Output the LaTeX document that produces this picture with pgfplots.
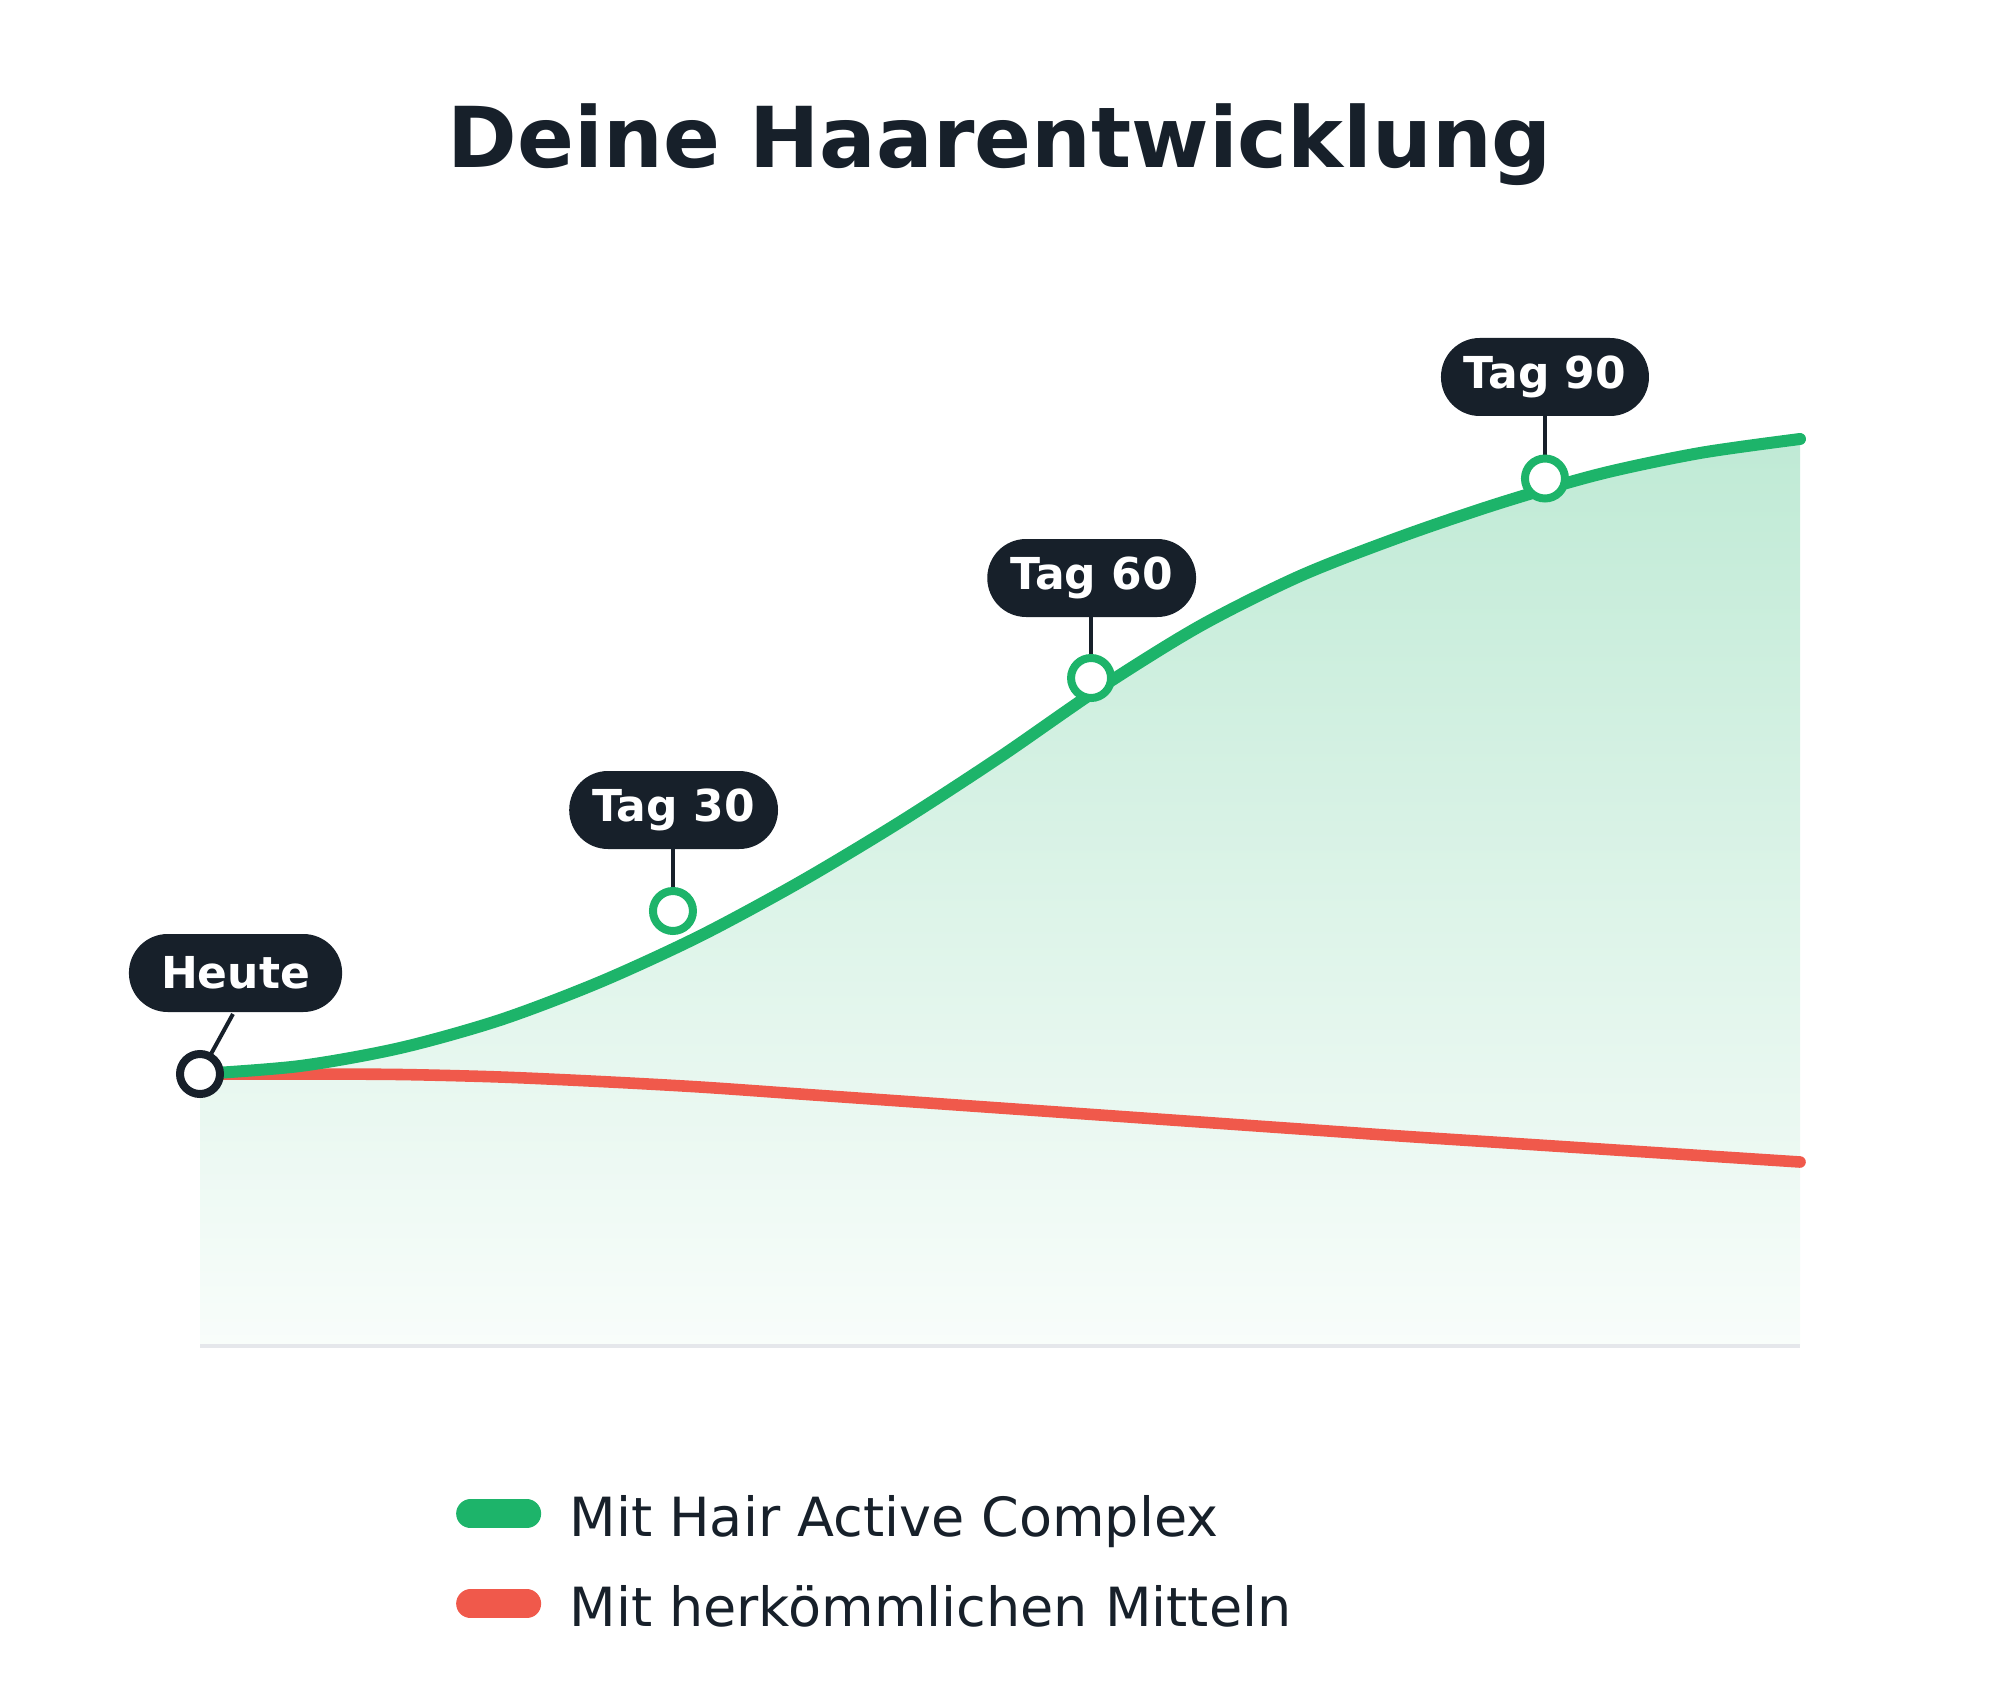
\documentclass[border=0pt]{standalone}
\usepackage{pgfplots}
\pgfplotsset{compat=1.18}
\usepackage{fontspec}
\setmainfont{DejaVu Sans}
\definecolor{greenc}{RGB}{29,180,106}
\definecolor{redc}{RGB}{240,89,75}
\definecolor{darkc}{RGB}{23,32,42}
\definecolor{gridc}{RGB}{229,231,235}
\pgfplotstableread{
x y
0 27.2
6.25 28.0
12.5 29.8
18.75 32.6
25 36.4
31.25 41.0
37.5 46.4
43.75 52.4
50 58.9
56.25 65.8
62.5 72.0
68.75 77.0
75 80.9
81.25 84.3
87.5 87.2
93.75 89.3
100 90.7
}\greendata
\pgfplotstableread{
x y
0 27.2
6.25 27.2
12.5 27.15
18.75 26.9
25 26.45
31.25 25.9
37.5 25.2
43.75 24.5
50 23.8
56.25 23.1
62.5 22.4
68.75 21.7
75 21.0
81.25 20.35
87.5 19.7
93.75 19.05
100 18.4
}\reddata
\begin{document}
\begin{tikzpicture}
\begin{axis}[
  width=500pt, height=426.5pt, scale only axis,
  xmin=-12.5, xmax=112.5, ymin=-36, ymax=134.6,
  hide axis, clip=false,
  reverse legend,
  legend cell align=left,
  legend style={at={(axis cs:16.01,-14.95)}, anchor=north west, draw=none, fill=none,
    inner sep=0pt, outer sep=0pt, row sep=10.75pt,
    font=\fontsize{13.5}{16}\selectfont, text=darkc,
    nodes={inner sep=0pt},
    /tikz/every odd column/.append style={column sep=7.06pt}},
]
\path (rel axis cs:0,0) rectangle (rel axis cs:1,1);
% gradient area
\addplot[draw=none, top color=greenc!28!white, bottom color=greenc!3!white, smooth, tension=0.5, forget plot] table[x=x,y=y] {\greendata} \closedcycle;
% baseline
\addplot[gridc, line width=0.8pt, forget plot] coordinates {(0,0) (100,0)};
% red line
\addplot[redc, line width=2.9pt, line cap=round, smooth, tension=0.5,
  legend image code/.code={\draw[redc, line width=7.25pt, line cap=round] (0pt,1.3pt) -- (14pt,1.3pt);}] table[x=x,y=y] {\reddata};
\addlegendentry{Mit herkömmlichen Mitteln}
% green line
\addplot[greenc, line width=3pt, line cap=round, smooth, tension=0.5,
  legend image code/.code={\draw[greenc, line width=7.25pt, line cap=round] (0pt,1.3pt) -- (14pt,1.3pt);}] table[x=x,y=y] {\greendata};
\addlegendentry{Mit Hair Active Complex}
% connectors
\draw[darkc, line width=1pt] (axis cs:0,27.2) -- (axis cs:2.06,33.2);
\draw[darkc, line width=1pt] (axis cs:29.56,53.6) -- (axis cs:29.56,43.5);
\draw[darkc, line width=1pt] (axis cs:55.69,76.8) -- (axis cs:55.69,66.8);
\draw[darkc, line width=1pt] (axis cs:84.06,96.9) -- (axis cs:84.06,86.75);
% markers
\addplot[only marks, mark=*, mark size=5pt, mark options={fill=white, draw=darkc, line width=2pt}, forget plot] coordinates {(0,27.2)};
\addplot[only marks, mark=*, mark size=5pt, mark options={fill=white, draw=greenc, line width=2pt}, forget plot] coordinates {(29.56,43.5) (55.69,66.8) (84.06,86.75)};
% labels
\tikzset{pill/.style={fill=darkc, text=white, rounded corners=9.7pt, minimum height=19.5pt, inner xsep=0pt, inner ysep=0pt, font=\bfseries\fontsize{11}{12}\selectfont}}
\node[pill, minimum width=53.3pt] at (axis cs:2.22,37.3) {Heute};
\node[pill, minimum width=52.2pt] at (axis cs:29.6,53.6) {Tag 30};
\node[pill, minimum width=52.2pt] at (axis cs:55.73,76.8) {Tag 60};
\node[pill, minimum width=52pt] at (axis cs:84.06,96.9) {Tag 90};
% title
\node[anchor=base, text=darkc, font=\bfseries\fontsize{21}{25}\selectfont] at (axis cs:50,117.8) {Deine Haarentwicklung};
\end{axis}
\end{tikzpicture}
\end{document}
